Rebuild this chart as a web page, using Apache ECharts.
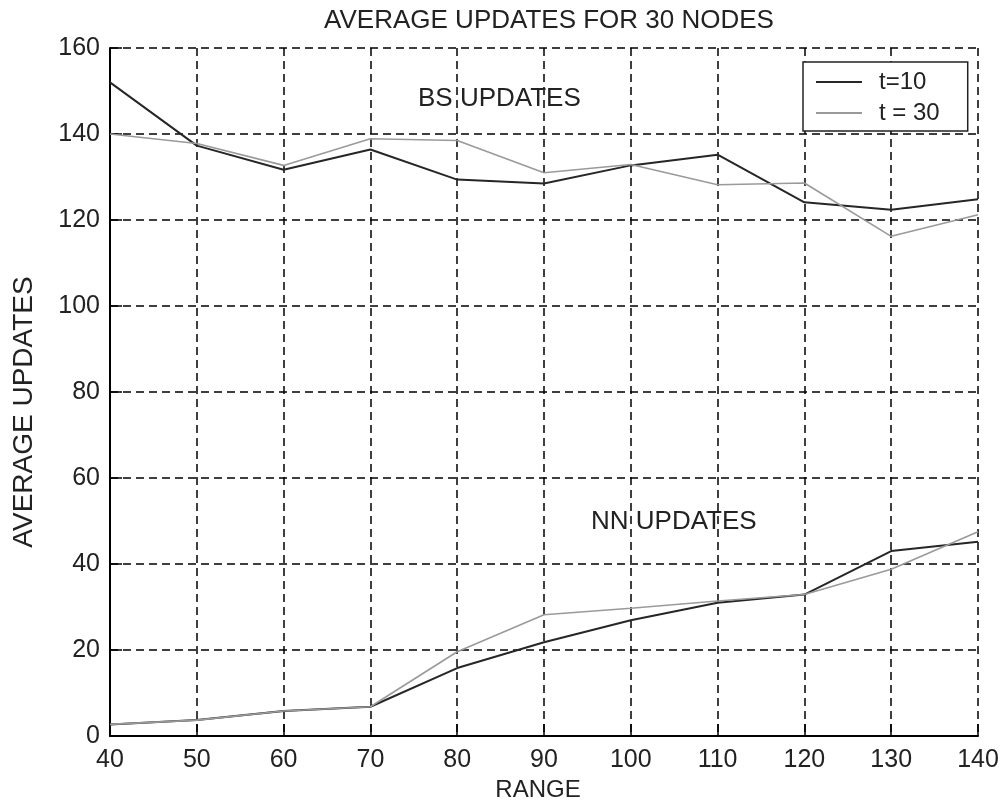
<!DOCTYPE html>
<html>
<head>
<meta charset="utf-8">
<script src="https://cdn.jsdelivr.net/npm/echarts@6/dist/echarts.min.js"></script>
<style>
html,body{margin:0;padding:0;background:#fff;}
#chart{width:1002px;height:804px;}
</style>
</head>
<body>
<div id="chart"></div>
<script>
const ranges = [40, 50, 60, 70, 80, 90, 100, 110, 120, 130, 140];
const bsT10 = [152.0, 137.3, 131.7, 136.4, 129.4, 128.5, 132.7, 135.2, 124.1, 122.4, 124.8];
const bsT30 = [140.0, 137.8, 132.7, 138.9, 138.5, 131.0, 132.9, 128.2, 128.6, 116.2, 121.2];
const nnT10 = [2.7, 3.7, 5.8, 6.8, 15.8, 21.8, 26.9, 31.0, 32.9, 43.0, 45.2];
const nnT30 = [2.7, 3.7, 5.8, 6.8, 19.6, 28.2, 29.7, 31.4, 32.9, 38.8, 47.5];
const seriesNames = ['t=10', 't = 30'];
const titleText = 'AVERAGE UPDATES FOR 30 NODES';
const xName = 'RANGE';
const yName = 'AVERAGE UPDATES';
const bsLabel = 'BS UPDATES';
const nnLabel = 'NN UPDATES';

const pairs = arr => ranges.map((x, i) => [x, arr[i]]);
const FONT = 'Liberation Sans, Arial, sans-serif';
const darkColor = '#262626';
const lightColor = '#9a9a9a';

const chart = echarts.init(document.getElementById('chart'), null, {renderer: 'canvas'});
const lineSeries = (name, data, color, width) => ({
  name, type: 'line', data, symbol: 'none', smooth: false,
  lineStyle: {color, width}, itemStyle: {color}, z: 3,
  emphasis: {disabled: true}
});

chart.setOption({
  animation: false,
  backgroundColor: '#fff',
  title: {
    text: titleText, left: 544, top: 3, textAlign: 'center',
    textStyle: {fontFamily: FONT, fontSize: 26, fontWeight: 'normal', color: '#222'}
  },
  legend: {
    data: seriesNames, orient: 'vertical', left: 803, top: 62,
    padding: [8, 28, 6, 13], itemGap: 7, itemWidth: 46, itemHeight: 2,
    icon: 'rect', borderColor: '#222', borderWidth: 1.5, backgroundColor: '#fff',
    textStyle: {fontFamily: FONT, fontSize: 24, color: '#222', padding: [0, 0, 0, 12]},
    selectedMode: false
  },
  grid: {left: 110, right: 24, top: 48, bottom: 68, containLabel: false, outerBoundsMode: 'none'},
  xAxis: {
    type: 'value', min: 40, max: 140, interval: 10,
    name: xName, nameLocation: 'middle', nameGap: 42,
    nameTextStyle: {fontFamily: FONT, fontSize: 24, color: '#222', padding: [0, 12, 0, 0]},
    axisLine: {show: true, lineStyle: {color: '#000', width: 2}},
    axisTick: {show: true, inside: true, length: 12, lineStyle: {color: '#000', width: 1.5}},
    axisLabel: {fontFamily: FONT, fontSize: 25, color: '#222', margin: 12},
    splitLine: {show: true, lineStyle: {color: '#000', width: 1.5, type: [8, 5]}}
  },
  yAxis: {
    type: 'value', min: 0, max: 160, interval: 20,
    name: yName, nameLocation: 'middle', nameGap: 72,
    nameTextStyle: {fontFamily: FONT, fontSize: 28, color: '#222', padding: [0, 40, 0, 0]},
    axisLine: {show: true, lineStyle: {color: '#000', width: 2}},
    axisTick: {show: true, inside: true, length: 12, lineStyle: {color: '#000', width: 1.5}},
    axisLabel: {fontFamily: FONT, fontSize: 25, color: '#222', margin: 10},
    splitLine: {show: true, lineStyle: {color: '#000', width: 1.5, type: [8, 5]}}
  },
  graphic: [
    {type: 'text', left: 418, top: 86, z: 10,
      style: {text: bsLabel, fontFamily: FONT, fontSize: 26, fill: '#222'}},
    {type: 'text', left: 591, top: 509, z: 10,
      style: {text: nnLabel, fontFamily: FONT, fontSize: 26, fill: '#222'}}
  ],
  series: [
    lineSeries(seriesNames[0], pairs(bsT10), darkColor, 2),
    lineSeries(seriesNames[1], pairs(bsT30), lightColor, 1.6),
    lineSeries(seriesNames[0], pairs(nnT10), darkColor, 2),
    lineSeries(seriesNames[1], pairs(nnT30), lightColor, 1.6)
  ]
});
</script>
</body>
</html>
